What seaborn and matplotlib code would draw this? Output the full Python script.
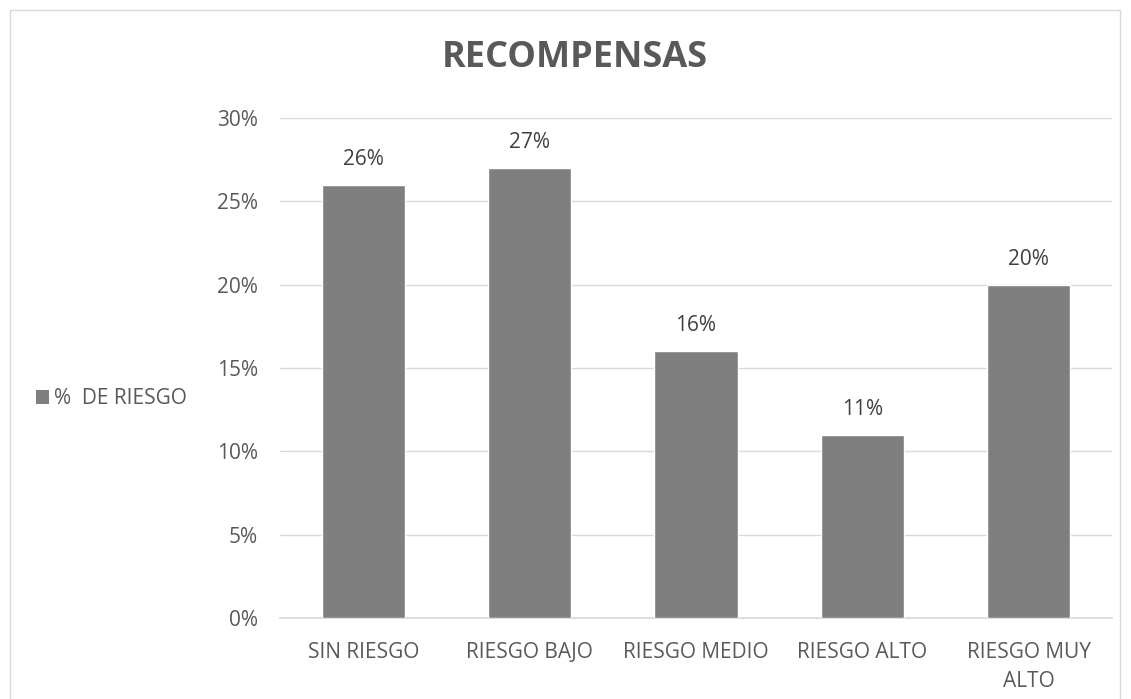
import matplotlib
matplotlib.use("Agg")
import matplotlib.pyplot as plt
import seaborn as sns
import pandas as pd
from matplotlib.patches import Rectangle, Patch
from matplotlib.ticker import FuncFormatter

categories = ["SIN RIESGO", "RIESGO BAJO", "RIESGO MEDIO", "RIESGO ALTO", "RIESGO MUY\nALTO"]
values = [0.26, 0.27, 0.16, 0.11, 0.20]
labels = ["26%", "27%", "16%", "11%", "20%"]
series_name = "%  DE RIESGO"
title = "RECOMPENSAS"

sns.set_theme(style="white")
plt.rcParams['font.family'] = ['Open Sans', 'DejaVu Sans']

df = pd.DataFrame({"cat": categories, "val": values})

fig = plt.figure(figsize=(11.31, 6.99), dpi=100)
ax = fig.add_axes([280/1131, 1 - 618/699, (1112-280)/1131, 500/699])

bar_color = "#7f7f7f"
sns.barplot(data=df, x="cat", y="val", color=bar_color, width=0.5, ax=ax, saturation=1, zorder=3)

for p, lab in zip(ax.patches, labels):
    ax.text(p.get_x() + p.get_width()/2, p.get_height() + 0.009, lab,
            ha="center", va="bottom", fontsize=15, color="#404040")

ax.set_ylim(0, 0.30)
ax.set_yticks([0, 0.05, 0.10, 0.15, 0.20, 0.25, 0.30])
ax.yaxis.set_major_formatter(FuncFormatter(lambda v, _: f"{v*100:.0f}%"))
ax.grid(axis="y", color="#d9d9d9", linewidth=1, zorder=0)
ax.set_xlabel("")
ax.set_ylabel("")
for s in ["top", "right", "left"]:
    ax.spines[s].set_visible(False)
ax.spines["bottom"].set_color("#d9d9d9")
ax.tick_params(axis="both", length=0, labelsize=15, colors="#595959")
ax.tick_params(axis="y", pad=16)
ax.tick_params(axis="x", pad=17)
for t in ax.get_xticklabels():
    t.set_linespacing(1.5)
ax.set_xlim(-0.5, 4.5)

fig.text(575/1131, 1 - 58/699, title, ha="center", va="center",
         fontsize=26, fontweight="bold", color="#595959")

handle = Patch(facecolor=bar_color, edgecolor="none")
fig.legend([handle], [series_name], loc="center left",
           bbox_to_anchor=(17/1131, 1 - 399/699), frameon=False,
           fontsize=15, labelcolor="#595959", handlelength=0.65, handleheight=0.65,
           handletextpad=0.25)

fig.patches.append(Rectangle((10/1131, -0.01), (1120-10)/1131, 1 - 10/699 + 0.01,
                             transform=fig.transFigure, fill=False,
                             edgecolor="#d9d9d9", linewidth=1))

fig.savefig("out.png", dpi=100, facecolor="white")
